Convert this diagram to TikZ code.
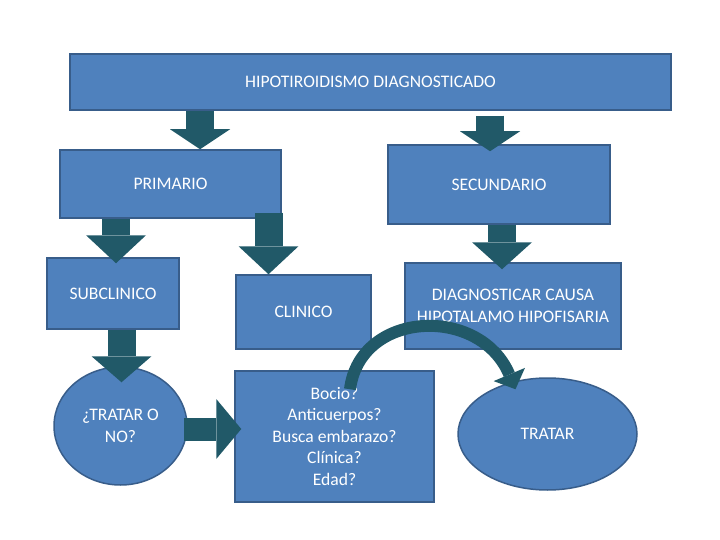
\documentclass[tikz,border=0pt]{standalone}
\usepackage{fontspec}
\setmainfont{Carlito}
\usetikzlibrary{arrows.meta, positioning, shapes.geometric, calc}
\definecolor{boxblue}{HTML}{4F81BD}
\definecolor{boxline}{HTML}{385D8A}
\definecolor{arrowteal}{HTML}{215968}

\begin{document}
\begin{tikzpicture}[
    x=1pt, y=-1pt,
    box/.style={rectangle, draw=boxline, line width=1.5pt, fill=boxblue, text=white, align=center, inner sep=2pt, font=\fontsize{17.6}{21.5}\selectfont},
    oval/.style={box, ellipse},
    blockarrow/.style={arrowteal, line width=28pt, -{Triangle[length=#1, width=60pt, line width=0pt]}},
    blockarrow/.default=24pt,
    bendarrow/.style={arrowteal, line width=12pt, -{Triangle[length=16pt, width=34pt, line width=0pt]}}
]
    \useasboundingbox (0,0) rectangle (720,540);

    % Nodes - top
    \node[box, minimum width=601pt, minimum height=56pt] (hipo) at (370.5,82) {HIPOTIROIDISMO DIAGNOSTICADO};

    % Nodes - second row
    \node[box, minimum width=221pt, minimum height=68pt] (primario) at (170.5,184) {PRIMARIO};
    \node[box, minimum width=222pt, minimum height=79pt] (secundario) at (499,184.5) {SECUNDARIO};

    % Nodes - third row
    \node[box, minimum width=132pt, minimum height=71pt] (subclinico) at (113,293.5) {SUBCLINICO};
    \node[box, minimum width=135pt, minimum height=74pt] (clinico) at (303.5,312) {CLINICO};
    \node[box, minimum width=216pt, minimum height=86pt] (diag) at (513,306) {DIAGNOSTICAR CAUSA\\HIPOTALAMO HIPOFISARIA};

    % Nodes - bottom row
    \node[oval, minimum width=133pt, minimum height=118pt] (tratarno) at (120.5,426) {¿TRATAR O\\NO?};
    \node[box, minimum width=199pt, minimum height=131pt] (bocio) at (334.5,436.5) {Bocio?\\Anticuerpos?\\Busca embarazo?\\Clínica?\\Edad?};
    \node[oval, minimum width=179pt, minimum height=112pt] (tratar) at (547.5,434) {TRATAR};

    % Block arrows
    \draw[blockarrow=20pt] ($(hipo.south -| primario.north)+(29.5,0)$) -- ($(primario.north)+(29.5,0)$);
    \draw[blockarrow=20pt] ($(hipo.south -| secundario.north)+(-9,5)$) -- ($(secundario.north)+(-9,7)$);
    \draw[blockarrow=28pt] ($(primario.south -| subclinico.north)+(3,0)$) -- ($(subclinico.north)+(3,6)$);
    \draw[blockarrow=28pt] ($(primario.south -| clinico.north)+(-35,-6)$) -- ($(clinico.north)+(-35,0)$);
    \draw[blockarrow=27pt] ($(secundario.south -| diag.north)+(-11,0)$) -- ($(diag.north)+(-11,7)$);
    \draw[blockarrow=26pt] ($(subclinico.south -| tratarno.north)+(1,0)$) -- ($(tratarno.north)+(1,16)$);
    \draw[blockarrow=25pt, line width=23pt] ($(tratarno.east)+(-4,3)$) -- ($(bocio.west |- tratarno.east)+(7,3)$);

    % Curved arrow over the boxes
    \draw[bendarrow] ($(bocio.north)+(15.5,19)$) .. controls (360,310) and (480,305) .. ($(tratar.north)+(-32,12)$);
\end{tikzpicture}
\end{document}
